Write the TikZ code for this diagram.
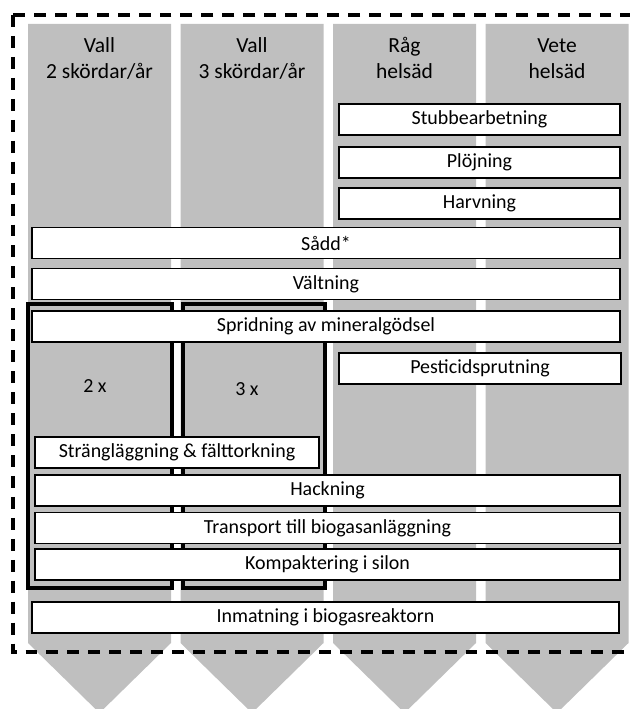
\documentclass[tikz,border=0pt]{standalone}
\usepackage{fontspec}
\setmainfont{Carlito}
\definecolor{colgrey}{RGB}{191,191,191}

\begin{document}
\begin{tikzpicture}[x=0.025cm, y=-0.025cm,
    taskbox/.style={draw, fill=white, line width=1.2pt, inner sep=0pt,
        minimum height=0.775cm, font=\fontsize{14.2}{17}\selectfont},
    colhead/.style={align=center, font=\fontsize{15.3}{18.5}\selectfont},
    groupbox/.style={draw, line width=2.3pt}]
    \clip (0,0) rectangle (630,709);
    % grey columns with arrow heads
    \foreach \cx in {28,180.5,333,485.5}
        \fill[colgrey] (\cx,24) -- ++(143,0) -- ++(0,619) -- ++(-71.5,70) -- ++(-71.5,-70) -- cycle;
    \draw[line width=2.3pt, dash pattern=on 8.5pt off 6.4pt] (13,15) rectangle (660,652);
    \node[colhead] (head1) at (99.5,60) {\strut Vall\\\strut 2 skördar/år};
    \node[colhead] (head2) at (252,60) {\strut Vall\\\strut 3 skördar/år};
    \node[colhead] (head3) at (404.5,60) {\strut Råg\\\strut helsäd};
    \node[colhead] (head4) at (557,60) {\strut Vete\\\strut helsäd};
    % harvest loops
    \draw[groupbox] (28,304) rectangle (172,588);
    \draw[groupbox] (183,304) rectangle (325,588);
    \node[taskbox, minimum width=7.025cm] (stubb) at (479.5,119.5) {Stubbearbetning};
    \node[taskbox, minimum width=7.025cm] (plojning) at (479.5,162.5) {Plöjning};
    \node[taskbox, minimum width=7.025cm] (harvning) at (479.5,203.5) {Harvning};
    \node[taskbox, minimum width=14.7cm] (sadd) at (326,243) {Sådd*};
    \node[taskbox, minimum width=14.7cm] (valtning) at (326,284) {Vältning};
    \node[taskbox, minimum width=14.7cm] (spridning) at (326,326.5) {Spridning av mineralgödsel};
    \node[taskbox, minimum width=7.05cm] (pesticid) at (480,368.5) {Pesticidsprutning};
    \node[font=\fontsize{14.2}{17}\selectfont] (twice) at (95,386) {2 x};
    \node[font=\fontsize{14.2}{17}\selectfont] (thrice) at (247,389) {3 x};
    \node[taskbox, minimum width=7.1cm] (strang) at (177,452.5) {Strängläggning \& fälttorkning};
    \node[taskbox, minimum width=14.625cm] (hackning) at (327.5,490.5) {Hackning};
    \node[taskbox, minimum width=14.625cm] (transport) at (327.5,528) {Transport till biogasanläggning};
    \node[taskbox, minimum width=14.625cm] (kompakt) at (327.5,564.5) {Kompaktering i silon};
    \node[taskbox, minimum width=14.675cm] (inmatning) at (325.5,617.5) {Inmatning i biogasreaktorn};
\end{tikzpicture}
\end{document}
